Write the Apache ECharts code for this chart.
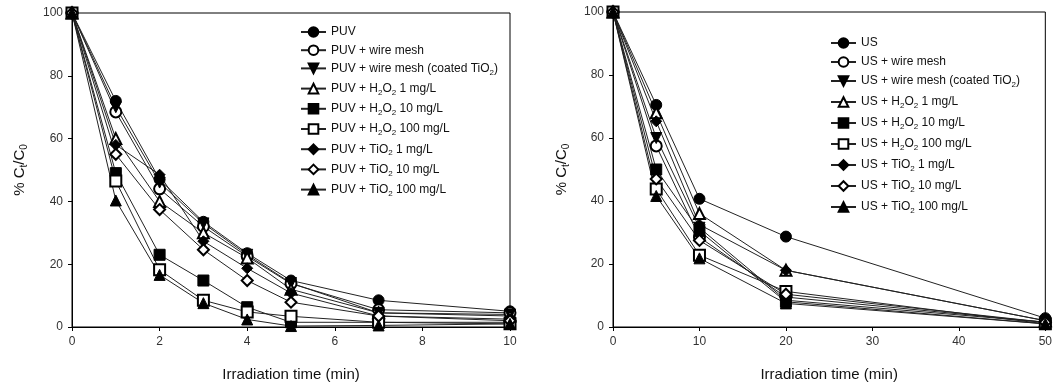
<!DOCTYPE html>
<html>
<head>
<meta charset="utf-8">
<script src="https://cdn.jsdelivr.net/npm/echarts@6/dist/echarts.min.js"></script>
<style>
  html, body { margin: 0; padding: 0; background: #fff; }
  #chart { width: 1055px; height: 387px; }
</style>
</head>
<body>
<div id="chart"></div>
<script>
// x values (min)
const timeLeft = [0, 1, 2, 3, 4, 5, 7, 10]
const timeRight = [0, 5, 10, 20, 50]

// left panel: PUV
const puv = [100, 72, 47, 33.5, 23.5, 14.8, 8.5, 5]
const puvMesh = [100, 68.5, 44, 32, 22.5, 13.8, 5.5, 4.5]
const puvMeshTiO2 = [100, 70, 46, 33, 23, 14, 4.5, 4]
const puvH2O2_1 = [100, 60, 40, 30, 22, 12, 4.5, 3.5]
const puvH2O2_10 = [100, 49, 23, 14.8, 6.3, 1.5, 1.5, 1.5]
const puvH2O2_100 = [100, 46.5, 18.2, 8.5, 4.8, 3.4, 1.5, 1]
const puvTiO2_1 = [100, 58, 48.5, 27.3, 18.7, 10.8, 3.5, 2.5]
const puvTiO2_10 = [100, 55, 37.4, 24.6, 14.8, 7.9, 3.5, 2]
const puvTiO2_100 = [100, 40.3, 16.6, 7.6, 2.4, 0.3, 0.5, 1]

// right panel: US
const us = [100, 70.5, 40.7, 28.7, 2.8]
const usMesh = [100, 57.5, 28.5, 9.5, 1.5]
const usMeshTiO2 = [100, 60, 31.5, 8.5, 1.5]
const usH2O2_1 = [100, 68, 36, 18, 2]
const usH2O2_10 = [100, 50, 30.5, 8, 1]
const usH2O2_100 = [100, 43.8, 22.8, 11.3, 1]
const usTiO2_1 = [100, 65.3, 32.5, 18, 2]
const usTiO2_10 = [100, 47, 27.5, 10.4, 1.5]
const usTiO2_100 = [100, 41.6, 21.8, 7.5, 1]

const yTicks = [0, 20, 40, 60, 80, 100]

const font = 'Arial, "Liberation Sans", sans-serif'

// marker per treatment (same order in both panels)
const markers = [
  { symbol: 'circle' },
  { symbol: 'emptyCircle' },
  { symbol: 'triangle', rotate: 180 },
  { symbol: 'emptyTriangle' },
  { symbol: 'rect' },
  { symbol: 'emptyRect' },
  { symbol: 'diamond' },
  { symbol: 'emptyDiamond' },
  { symbol: 'triangle' }
]

const suffixes = [
  '',
  ' + wire mesh',
  ' + wire mesh (coated TiO2)',
  ' + H2O2 1 mg/L',
  ' + H2O2 10 mg/L',
  ' + H2O2 100 mg/L',
  ' + TiO2 1 mg/L',
  ' + TiO2 10 mg/L',
  ' + TiO2 100 mg/L'
]

const leftValues = [puv, puvMesh, puvMeshTiO2, puvH2O2_1, puvH2O2_10, puvH2O2_100, puvTiO2_1, puvTiO2_10, puvTiO2_100]
const rightValues = [us, usMesh, usMeshTiO2, usH2O2_1, usH2O2_10, usH2O2_100, usTiO2_1, usTiO2_10, usTiO2_100]

const leftNames = suffixes.map(s => 'PUV' + s)
const rightNames = suffixes.map(s => 'US' + s)

// turn H2O2 / TiO2 into rich text with subscripts
function richName(name) {
  const body = name
    .replace(/H2O2/g, 'H}{s|2}{t|O}{s|2}{t|')
    .replace(/TiO2/g, 'TiO}{s|2}{t|')
  return '{t|' + body + '}'
}

const legendRich = {
  t: { fontSize: 12, lineHeight: 16, fontFamily: font, color: '#111' },
  s: { fontSize: 8, lineHeight: 8, verticalAlign: 'bottom', fontFamily: font, color: '#111' }
}

const nameRich = {
  t: { fontSize: 15, lineHeight: 18, fontFamily: font, color: '#111' },
  s: { fontSize: 10, lineHeight: 10, verticalAlign: 'bottom', fontFamily: font, color: '#111' }
}

function makeSeries(names, values, xs, idx) {
  return names.map((name, i) => ({
    name: name,
    type: 'line',
    xAxisIndex: idx,
    yAxisIndex: idx,
    data: xs.map((x, j) => [x, values[i][j]]),
    symbol: markers[i].symbol,
    symbolRotate: markers[i].rotate || 0,
    symbolSize: 11,
    showAllSymbol: true,
    lineStyle: { color: '#222', width: 1 },
    itemStyle: { color: '#000', borderColor: '#000', borderWidth: 1 },
    emphasis: { disabled: true }
  }))
}

function xAxisCfg(idx, max, interval) {
  return {
    type: 'value',
    gridIndex: idx,
    min: 0,
    max: max,
    interval: interval,
    name: 'Irradiation time (min)',
    nameLocation: 'middle',
    nameGap: 40,
    nameTextStyle: { fontSize: 15, fontFamily: font, color: '#111' },
    axisLine: { lineStyle: { color: '#000', width: 1 } },
    axisTick: { show: true, length: 4, lineStyle: { color: '#000' } },
    axisLabel: { fontSize: 12, fontFamily: font, color: '#333', margin: 9 },
    splitLine: { show: false }
  }
}

function yAxisCfg(idx, gap) {
  return {
    type: 'value',
    gridIndex: idx,
    min: yTicks[0],
    max: yTicks[yTicks.length - 1],
    interval: 20,
    name: '{t|% C}{s|t}{t|/C}{s|0}',
    nameLocation: 'middle',
    nameRotate: 90,
    nameGap: gap,
    nameTextStyle: { fontSize: 15, fontFamily: font, color: '#111', rich: nameRich },
    axisLine: { show: true, lineStyle: { color: '#000', width: 1 } },
    axisTick: { show: true, length: 4, lineStyle: { color: '#000' } },
    axisLabel: { fontSize: 12, fontFamily: font, color: '#333', margin: 9 },
    splitLine: { show: false }
  }
}

function legendCfg(names, left, top, gap) {
  return {
    data: names,
    orient: 'vertical',
    left: left,
    top: top,
    padding: 0,
    itemGap: gap,
    itemWidth: 25,
    itemHeight: 12,
    selectedMode: false,
    formatter: richName,
    textStyle: { fontFamily: font, fontSize: 12, color: '#111', rich: legendRich }
  }
}

const chart = echarts.init(document.getElementById('chart'))

chart.setOption({
  animation: false,
  backgroundColor: '#fff',
  grid: [
    { left: 72, top: 13, width: 438, height: 318, show: true, borderColor: '#000', borderWidth: 1, backgroundColor: 'transparent' },
    { left: 613, top: 12, width: 435, height: 317, show: true, borderColor: '#000', borderWidth: 1, backgroundColor: 'transparent' }
  ],
  legend: [
    legendCfg(leftNames, 300, 26, 6.2),
    legendCfg(rightNames, 830, 37, 7)
  ],
  xAxis: [xAxisCfg(0, 10, 2), xAxisCfg(1, 50, 10)],
  yAxis: [yAxisCfg(0, 43), yAxisCfg(1, 42)],
  series: [
    ...makeSeries(leftNames, leftValues, timeLeft, 0),
    ...makeSeries(rightNames, rightValues, timeRight, 1)
  ]
})
</script>
</body>
</html>
